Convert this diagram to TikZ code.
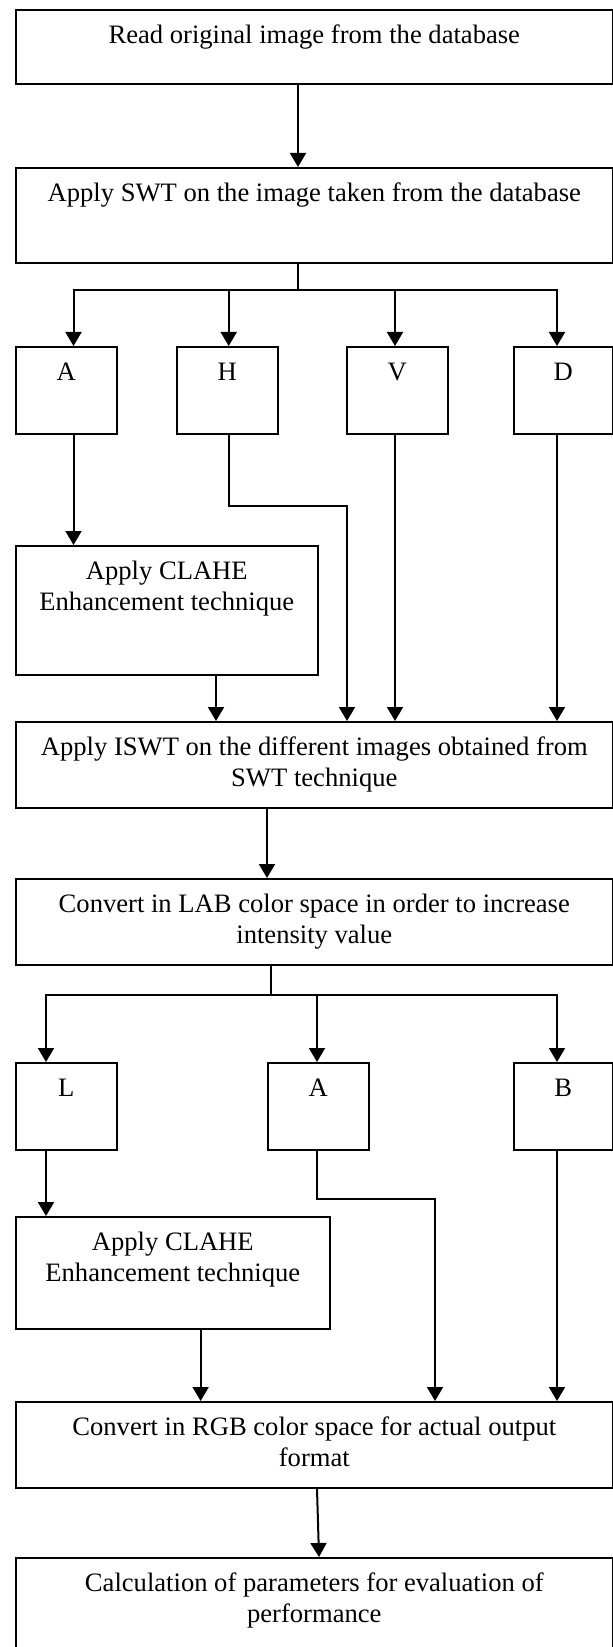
\documentclass[tikz,border=0pt]{standalone}
\usepackage{fontspec}
\setmainfont{Liberation Serif}
\usetikzlibrary{arrows.meta}

\newcommand{\stagetxt}[3]{\parbox[c][#2][t]{#1}{\centering\fontsize{13.3pt}{15.5pt}\selectfont\rule{0pt}{17pt}#3}}

\tikzset{
  stage/.style={draw, line width=0.8pt, inner sep=0pt, anchor=north west},
  link/.style={line width=1pt},
  flow/.style={line width=1pt, -{Triangle[width=8pt,length=7pt]}}
}

\begin{document}
\begin{tikzpicture}[x=0.5pt, y=-0.5pt]
\useasboundingbox (0,0) rectangle (613,1647);
\node[stage] (read) at (15,9) {\stagetxt{298.5pt}{37pt}{Read original image from the database}};
\node[stage] (swt) at (15,167) {\stagetxt{298.5pt}{47.5pt}{Apply SWT on the image taken from the database}};
\node[stage] (swtA) at (15,346) {\stagetxt{50.5pt}{43.5pt}{A}};
\node[stage] (swtH) at (176,346) {\stagetxt{50.5pt}{43.5pt}{H}};
\node[stage] (swtV) at (346,346) {\stagetxt{50.5pt}{43.5pt}{V}};
\node[stage] (swtD) at (513,346) {\stagetxt{49.5pt}{43.5pt}{D}};
\node[stage] (clahe1) at (15,545) {\stagetxt{151pt}{64.5pt}{Apply CLAHE\\Enhancement technique}};
\node[stage] (iswt) at (15,721) {\stagetxt{298.5pt}{43pt}{Apply ISWT on the different images obtained from\\SWT technique}};
\node[stage] (lab) at (15,878) {\stagetxt{298.5pt}{43pt}{Convert in LAB color space in order to increase\\intensity value}};
\node[stage] (labL) at (15,1062) {\stagetxt{50.5pt}{43.5pt}{L}};
\node[stage] (labA) at (267,1062) {\stagetxt{50.5pt}{43.5pt}{A}};
\node[stage] (labB) at (513,1062) {\stagetxt{49.5pt}{43.5pt}{B}};
\node[stage] (clahe2) at (15,1216) {\stagetxt{157pt}{56pt}{Apply CLAHE\\Enhancement technique}};
\node[stage] (rgb) at (15,1401) {\stagetxt{298.5pt}{43pt}{Convert in RGB color space for actual output\\format}};
\node[stage] (calc) at (15,1557) {\stagetxt{298.5pt}{50pt}{Calculation of parameters for evaluation of\\performance}};

\draw[flow] (read.south -| 298,0) -- (swt.north -| 298,0);
\draw[link] (swt.south -| 298,0) -- (298,290) coordinate (split1);
\foreach \n/\px in {swtA/73.5, swtH/228.7, swtV/395, swtD/557}
  \draw[flow] (split1) -| (\n.north -| \px,0);
\draw[flow] (swtA.south -| 73.5,0) -- (clahe1.north -| 73.5,0);
\draw[flow] (swtH.south -| 228.7,0) -- (228.7,506) -| (iswt.north -| 347,0);
\draw[flow] (swtV.south -| 395,0) -- (iswt.north -| 395,0);
\draw[flow] (swtD.south -| 557,0) -- (iswt.north -| 557,0);
\draw[flow] (clahe1.south -| 216,0) -- (iswt.north -| 216,0);
\draw[flow] (iswt.south -| 267,0) -- (lab.north -| 267,0);
\draw[link] (lab.south -| 271,0) -- (271,995) coordinate (split2);
\foreach \n/\px in {labL/46, labA/317, labB/557}
  \draw[flow] (split2) -| (\n.north -| \px,0);
\draw[flow] (labL.south -| 46,0) -- (clahe2.north -| 46,0);
\draw[flow] (labA.south -| 317,0) -- (317,1199) -| (rgb.north -| 435,0);
\draw[flow] (labB.south -| 557,0) -- (rgb.north -| 557,0);
\draw[flow] (clahe2.south -| 200.6,0) -- (rgb.north -| 200.6,0);
\draw[flow] (rgb.south -| 317,0) -- (calc.north -| 319,0);
\end{tikzpicture}
\end{document}
